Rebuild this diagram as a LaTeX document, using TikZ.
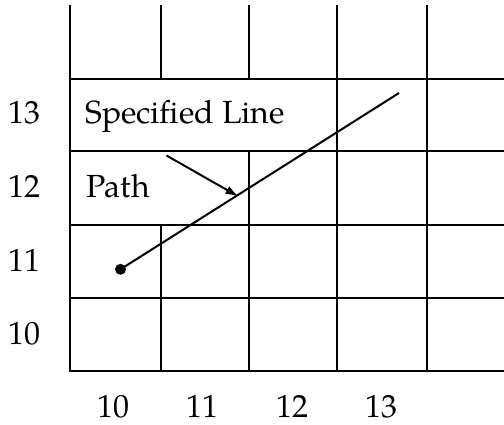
\documentclass[tikz,border=0pt]{standalone}
\usepackage{fontspec}
\setmainfont{TeX Gyre Pagella}
\usetikzlibrary{arrows.meta}
\begin{document}
\begin{tikzpicture}[x=1pt,y=-1pt,
  gridline/.style={line width=2pt, line cap=rect},
  lab/.style={font=\fontsize{32}{38}\selectfont, inner sep=0pt},
  conn/.style={line width=2pt}]
\useasboundingbox (0,0) rectangle (504,425);
% horizontal grid lines
\foreach \yy in {79,151,225,298,371} \draw[gridline] (70,\yy) -- (504,\yy);
% vertical grid lines
\draw[gridline] (70,6) -- (70,371);
\draw[gridline] (161,6) -- (161,79);
\draw[gridline] (161,225) -- (161,371);
\draw[gridline] (249,6) -- (249,79);
\draw[gridline] (249,151) -- (249,371);
\draw[gridline] (337,6) -- (337,371);
\draw[gridline] (427,6) -- (427,371);
% row labels
\node[lab, anchor=base] (r13) at (25,124) {13};
\node[lab, anchor=base] (r12) at (25,197.5) {12};
\node[lab, anchor=base] (r11) at (25,271.5) {11};
\node[lab, anchor=base] (r10) at (25,344.5) {10};
% column labels
\node[lab, anchor=base] (c10) at (113,417.5) {10};
\node[lab, anchor=base] (c11) at (202,417.5) {11};
\node[lab, anchor=base] (c12) at (292,417.5) {12};
\node[lab, anchor=base] (c13) at (381,417.5) {13};
% texts
\node[lab, anchor=base west] (spec) at (85,124) {Specified Line};
\node[lab, anchor=base west] (path) at (86,197.5) {Path};
% specified line
\coordinate (p0) at (120.5,269.3);
\coordinate (p1) at (399,93);
\fill (p0) circle (5.5);
\draw[conn] (p0) -- (p1);
% arrow
\coordinate (a0) at (166.5,155.5);
\coordinate (a1) at (238.5,196.5);
\draw[conn, -{Latex[length=13pt,width=9pt]}] (a0) -- (a1);
\end{tikzpicture}
\end{document}
